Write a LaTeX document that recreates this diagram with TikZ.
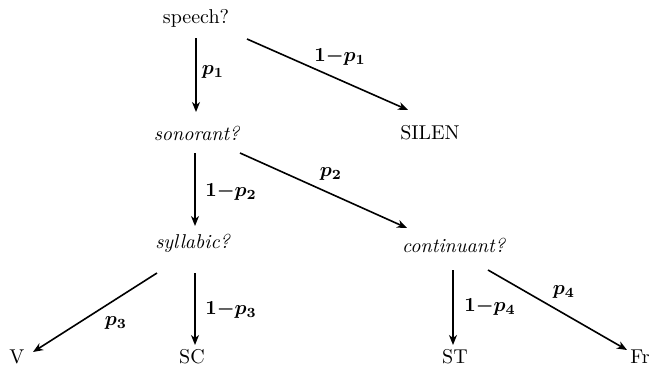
\documentclass[tikz,border=0pt]{standalone}
\usepackage{bm}
\usetikzlibrary{arrows.meta}
\begin{document}
\begin{tikzpicture}[x=0.5pt,y=-0.5pt,
  lbl/.style={inner sep=0pt,font=\normalsize},
  qnode/.style={inner sep=0pt},
  arr/.style={line width=0.8pt,-{Stealth[length=5pt,width=4pt,inset=1.5pt]}},
  plab/.style={inner sep=0pt}]
\useasboundingbox (0,0) rectangle (657,375);
% nodes
\node[qnode] (speech) at (196,18) {speech?};
\node[qnode] (sonorant) at (197,133) {\textit{sonorant?}};
\node[qnode] (silen) at (430,133) {SILEN};
\node[qnode] (syllabic) at (193,243) {\textit{syllabic?}};
\node[qnode] (continuant) at (454,245) {\textit{continuant?}};
\node[qnode] (v) at (17,357) {V};
\node[qnode] (sc) at (192,357) {SC};
\node[qnode] (st) at (455,357) {ST};
\node[qnode] (fr) at (640,357) {Fr};
% connectors
\draw[arr] ([shift={(0,20)}]speech.center) -- ([shift={(-1,-21)}]sonorant.center);
\draw[arr] ([shift={(51,21)}]speech.center) -- ([shift={(-22,-23)}]silen.center);
\draw[arr] ([shift={(-2,20)}]sonorant.center) -- ([shift={(2,-17)}]syllabic.center);
\draw[arr] ([shift={(43,20)}]sonorant.center) -- ([shift={(-47,-17)}]continuant.center);
\draw[arr] ([shift={(-36,30)}]syllabic.center) -- ([shift={(16,-5)}]v.center);
\draw[arr] ([shift={(2,30)}]syllabic.center) -- ([shift={(3,-12)}]sc.center);
\draw[arr] ([shift={(-1,25)}]continuant.center) -- ([shift={(-2,-12)}]st.center);
\draw[arr] ([shift={(34,25)}]continuant.center) -- ([shift={(-13,-7)}]fr.center);
% labels
\node[plab] (l1) at (213,72) {$\bm{p_1}$};
\node[plab] (l2) at (340,57) {$\bm{1{-}p_1}$};
\node[plab] (l3) at (231,192) {$\bm{1{-}p_2}$};
\node[plab] (l4) at (331,174) {$\bm{p_2}$};
\node[plab] (l5) at (116,323) {$\bm{p_3}$};
\node[plab] (l6) at (231,310) {$\bm{1{-}p_3}$};
\node[plab] (l7) at (490,307) {$\bm{1{-}p_4}$};
\node[plab] (l8) at (564,292) {$\bm{p_4}$};
\end{tikzpicture}
\end{document}
